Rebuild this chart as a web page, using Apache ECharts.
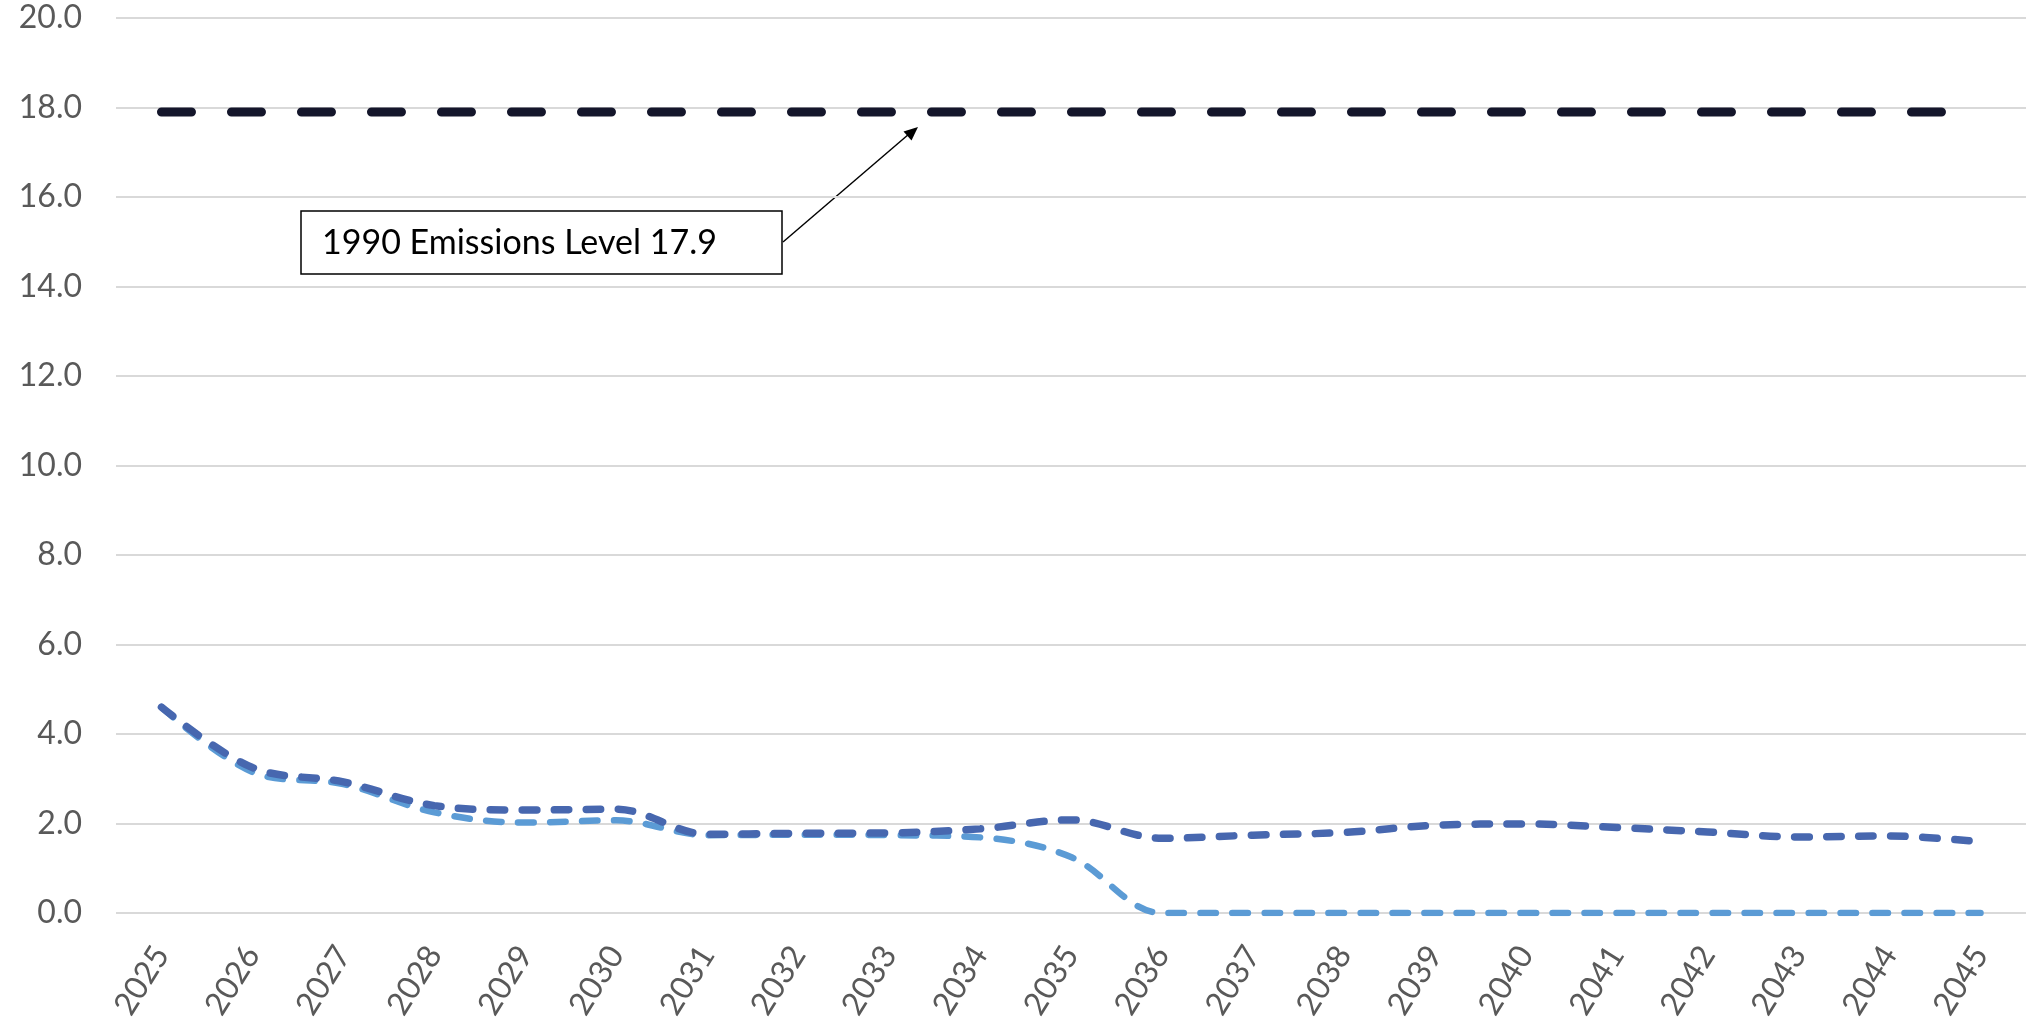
<!DOCTYPE html>
<html>
<head>
<meta charset="utf-8">
<title>Emissions</title>
<script src="https://cdn.jsdelivr.net/npm/echarts@6/dist/echarts.min.js"></script>
<style>
  html, body { margin: 0; padding: 0; background: #fff; }
  #chart { width: 2028px; height: 1023px; }
</style>
</head>
<body>
<div id="chart"></div>
<script>
// years on the category axis
const years = ['2025', '2026', '2027', '2028', '2029', '2030', '2031', '2032', '2033', '2034', '2035',
  '2036', '2037', '2038', '2039', '2040', '2041', '2042', '2043', '2044', '2045']

// dark blue series
const seriesDark = [4.6, 3.25, 2.93, 2.4, 2.3, 2.32, 1.76, 1.78, 1.79, 1.88, 2.08,
  1.67, 1.74, 1.8, 1.96, 1.99, 1.91, 1.81, 1.7, 1.72, 1.59]

// light blue series
const seriesLight = [4.6, 3.15, 2.88, 2.25, 2.02, 2.07, 1.74, 1.75, 1.74, 1.69, 1.25,
  0, 0, 0, 0, 0, 0, 0, 0, 0, 0]

// 1990 emissions level
const level1990 = [17.9, 17.9, 17.9, 17.9, 17.9, 17.9, 17.9, 17.9, 17.9, 17.9, 17.9,
  17.9, 17.9, 17.9, 17.9, 17.9, 17.9, 17.9, 17.9, 17.9, 17.9]

const yMin = 0
const yMax = 20
const yStep = 2

const annotationText = '1990 Emissions Level 17.9'

const font = 'Lato, "Open Sans", sans-serif'

const chart = echarts.init(document.getElementById('chart'))

chart.setOption({
  animation: false,
  grid: {
    left: 116,
    right: 2,
    top: 18,
    bottom: 110,
    containLabel: false
  },
  xAxis: {
    type: 'category',
    data: years,
    boundaryGap: true,
    axisLine: { show: false },
    axisTick: { show: false },
    axisLabel: {
      rotate: 58,
      margin: 36,
      color: '#595959',
      fontSize: 32,
      fontFamily: font,
      interval: 0
    }
  },
  yAxis: {
    type: 'value',
    min: yMin,
    max: yMax,
    interval: yStep,
    axisLine: { show: false },
    axisTick: { show: false },
    axisLabel: {
      margin: 34,
      color: '#595959',
      fontSize: 32,
      fontFamily: font,
      formatter: v => v.toFixed(1)
    },
    splitLine: {
      lineStyle: { color: '#d9d9d9', width: 2 }
    }
  },
  series: [{
    name: '1990 Level',
    type: 'line',
    data: level1990,
    showSymbol: false,
    lineStyle: { color: '#14162b', width: 9, type: [30, 40], cap: 'round' }
  }, {
    name: 'Light',
    type: 'line',
    data: seriesLight,
    smooth: 0.35,
    showSymbol: false,
    lineStyle: { color: '#5b9bd5', width: 6.5, type: [15.5, 16.5], cap: 'round' }
  }, {
    name: 'Dark',
    type: 'line',
    data: seriesDark,
    smooth: 0.35,
    showSymbol: false,
    lineStyle: { color: '#4767af', width: 7.5, type: [14.5, 17.5], cap: 'round' }
  }],
  graphic: [{
    type: 'line',
    shape: { x1: 783, y1: 242, x2: 909, y2: 134 },
    style: { stroke: '#000', lineWidth: 1.5 }
  }, {
    type: 'polygon',
    shape: { points: [[918, 127], [911.5, 140.5], [903.5, 131.5]] },
    style: { fill: '#000' }
  }, {
    type: 'rect',
    shape: { x: 301, y: 211, width: 481, height: 63 },
    style: { fill: '#fff', stroke: '#000', lineWidth: 1.5 }
  }, {
    type: 'text',
    x: 322,
    y: 243,
    style: {
      text: annotationText,
      fill: '#000',
      font: '34px ' + font,
      verticalAlign: 'middle'
    }
  }]
})
</script>
</body>
</html>
